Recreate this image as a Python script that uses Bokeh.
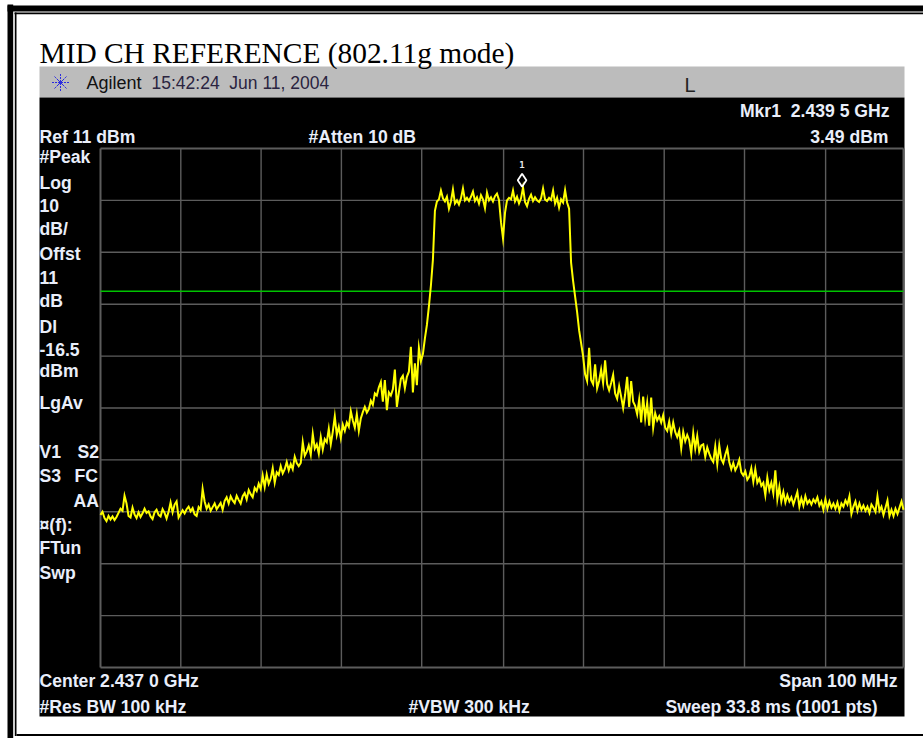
from bokeh.plotting import figure
from bokeh.models import Range1d
from bokeh.core.properties import value
from bokeh.embed import file_html
from bokeh.resources import INLINE
import numpy as np

TITLE = "MID CH REFERENCE (802.11g mode)"
CENTER_MHZ = 2437.0
SPAN_MHZ = 100.0
REF_DBM = 11.0
DB_PER_DIV = 10.0
DISPLAY_LINE_DBM = -16.5
MARKER_MHZ = 2439.5
MARKER_DBM = 3.49

grid_freq = [2387, 2397, 2407, 2417, 2427, 2437.2, 2447.15, 2457.2, 2467.2, 2477.3, 2487]
grid_level = [11, 1, -9, -19, -29, -39, -49, -59, -69, -79, -89]

trace_left_floor = [
    -59.6,-59.0,-60.2,-60.8,-59.8,-60.5,-59.9,-60.6,-60.0,-59.2,
    -58.4,-58.8,-55.9,-57.4,-59.8,-60.1,-58.2,-59.5,-60.2,-59.1,
    -60.0,-59.3,-58.4,-59.2,-58.9,-59.9,-60.4,-59.1,-58.6,-59.6,
    -59.9,-58.5,-59.2,-60.3,-59.0,-57.2,-59.1,-57.6,-57.0,-60.1,
    -59.4,-58.7,-59.3,-58.5,-58.0,-58.9,-58.3,-59.5,-59.8,-58.1,
    -58.6,-54.6,-57.0,-58.4,-57.6,-58.8,-58.1,-57.4,-58.5,-57.9,
    -57.3,-58.6,-56.9,-56.2,-57.4,-56.0,-56.8,-57.3,-55.9,-56.7,
    -57.4,-56.0,-55.4,-56.6,-54.8,-55.6,-56.2,-54.4,-55.0,-53.6,
    -54.6,-52.0,-54.2,-51.8,-53.6,
]
trace_left_skirt = [
    -52.6,-50.6,-53.4,-51.4,-51.9,-50.2,-51.6,-50.8,-49.4,-51.0,
    -49.8,-50.8,-48.4,-49.6,-50.2,-49.6,-45.6,-48.2,-47.4,-46.2,
    -48.0,-44.0,-46.8,-46.0,-47.8,-44.6,-47.0,-45.0,-45.6,-43.0,
    -46.0,-43.6,-40.6,-44.2,-42.6,-44.8,-42.2,-43.4,-41.8,-42.6,
    -39.6,-41.4,-42.8,-40.2,-43.4,-41.0,-39.8,-38.8,-39.9,-39.2,
    -37.6,-38.4,-36.2,-36.6,-35.0,-34.0,-37.8,-33.6,-39.4,-36.0,
    -36.6,-35.4,-31.6,-38.8,-36.0,-33.4,-32.8,-35.2,-33.0,-32.0,
    -27.2,-36.0,-30.4,-34.6,-27.4,
]
trace_rise = [-30.0,-28.6,-25.6,-23.0,-19.4,-15.4,-10.4,-1.0]
trace_plateau = [
    0.8,1.2,2.9,1.4,0.8,1.7,-0.6,0.8,3.1,0.4,
    1.0,0.2,1.4,3.3,1.0,1.5,0.9,1.7,2.7,0.9,
    1.6,0.4,2.0,1.2,-0.5,2.5,1.0,1.6,0.8,1.8,
    2.3,1.1,-3.2,-6.3,-1.4,1.0,1.5,1.2,2.9,0.8,
    1.7,0.4,1.4,3.49,0.7,-0.1,1.3,2.1,0.9,1.6,
    1.0,0.7,1.4,3.3,1.2,0.9,1.5,1.1,2.9,0.4,
    1.5,-0.4,1.2,0.6,3.0,0.6,
]
trace_fall = [-0.6,-11.0,-14.5,-17.5,-20.5,-24.0,-26.5,-29.0,-32.5,-33.8]
trace_right_skirt = [
    -27.4,-33.6,-34.4,-30.6,-35.2,-33.8,-31.6,-34.2,-29.8,-34.4,
    -35.6,-34.2,-32.6,-36.2,-37.2,-34.8,-36.8,-39.0,-36.4,-33.0,
    -38.8,-33.8,-37.8,-38.6,-40.2,-37.4,-41.8,-36.8,-41.0,-38.0,
    -42.4,-37.0,-42.8,-40.0,-41.4,-40.6,-41.8,-40.4,-42.8,-43.4,
    -41.6,-44.0,-41.8,-43.6,-44.6,-43.4,-46.8,-43.6,-45.4,-44.2,
    -45.2,-47.8,-43.8,-46.8,-44.4,-47.4,-46.2,-46.0,-48.4,-46.6,
    -47.8,-48.8,-49.4,-46.4,-49.8,-46.2,-48.8,-49.6,-48.0,-46.8,
    -49.4,-50.8,-49.6,-51.0,-50.2,
]
trace_right_floor = [
    -49.0,-51.4,-52.0,-51.2,-52.8,-52.2,-50.6,-53.2,-50.8,-53.4,
    -52.6,-54.0,-53.4,-55.8,-52.4,-54.8,-53.4,-55.4,-51.0,-56.6,
    -54.2,-57.0,-55.2,-57.2,-55.8,-57.0,-56.2,-57.6,-56.4,-55.2,
    -58.0,-56.4,-57.8,-56.0,-57.4,-56.8,-57.6,-56.6,-57.2,-56.2,
    -57.8,-57.0,-58.6,-56.6,-58.4,-57.0,-58.2,-57.4,-58.4,-57.2,
    -58.8,-57.4,-58.0,-56.8,-57.6,-56.0,-59.4,-58.0,-57.0,-58.8,
    -57.4,-58.6,-57.8,-58.8,-58.0,-59.2,-57.6,-58.2,-59.0,-56.0,
    -58.8,-58.0,-59.6,-58.2,-56.8,-59.8,-58.6,-59.8,-58.4,-59.4,
    -58.2,-57.0,-58.6,
]

level = (trace_left_floor + trace_left_skirt + trace_rise + trace_plateau
         + trace_fall + trace_right_skirt + trace_right_floor)
freq = np.linspace(CENTER_MHZ - SPAN_MHZ / 2, CENTER_MHZ + SPAN_MHZ / 2, len(level))

# page geometry in pixels
W, H = 923, 738
PX_L, PX_R = 100.0, 903.0
PX_T, PX_B = 148.0, 667.0
mhz_per_px = SPAN_MHZ / (PX_R - PX_L)
db_per_px = DB_PER_DIV * 10 / (PX_B - PX_T)
f0 = CENTER_MHZ - SPAN_MHZ / 2

p = figure(
    width=W, height=H, output_backend="svg", toolbar_location=None,
    x_range=Range1d(f0 - PX_L * mhz_per_px, f0 + (W - PX_L) * mhz_per_px),
    y_range=Range1d(REF_DBM - (H - PX_T) * db_per_px, REF_DBM + PX_T * db_per_px),
    min_border=0, min_border_left=0, min_border_right=0, min_border_top=0, min_border_bottom=0,
    background_fill_color="white", border_fill_color="white", outline_line_color=None,
    styles={"position": "absolute", "left": "0px", "top": "0px"},
)
p.xaxis.visible = False
p.yaxis.visible = False
p.xgrid.visible = False
p.ygrid.visible = False
p.extra_x_ranges["px"] = Range1d(0, W)
p.extra_y_ranges["px"] = Range1d(H, 0)
px = dict(x_range_name="px", y_range_name="px")

def box(l, t, r, b, color):
    p.quad(left=l, right=r, top=t, bottom=b, fill_color=color, line_color=None, **px)

# page frame
box(7, 4, 12.7, 738, "black")
box(7, 5, 923, 11, "black")
box(14, 12, 923, 13.7, "black")
box(14.3, 12, 16, 735.5, "black")
box(16, 733.5, 923, 735.5, "black")

# analyzer screen
box(39, 66, 904, 97, "#bcbcbc")
box(39, 97, 904, 716, "black")

TXT = "#e9eefa"
SANS = value("Liberation Sans")

def label(x, y, s, size=17.6, bold=True, color=TXT, align="left", font=SANS):
    p.text(x=[x], y=[y - 0.3 * size], text=[s], text_color=color, text_font=font,
           text_font_size=f"{size}px", text_font_style="bold" if bold else "normal",
           text_align=align, text_baseline="alphabetic", **px)

label(39, 61, TITLE, size=29.4, bold=False, color="black", font=value("Liberation Serif"))
label(86, 88, "Agilent", size=18, bold=False, color="#111111")
label(151, 88, "15:42:24\u00a0\u00a0Jun 11, 2004", size=17.5, bold=False, color="#2a2440")
label(684, 90, "L", size=20, bold=False, color="#222222")

label(889, 116, "Mkr1\u00a0\u00a02.439 5 GHz", align="right")
label(888, 142, "3.49 dBm", align="right")
label(39, 142, "Ref 11 dBm")
label(308, 142, "#Atten 10 dB")

for y, s in [(162, "#Peak"), (188, "Log"), (210, "10"), (234, "dB/"), (259, "Offst"),
             (282, "11"), (306, "dB"), (332, "Dl"), (354, "-16.5"), (376, "dBm"),
             (408, "LgAv"), (457, "V1"), (481, "S3"), (530, "\u00a4(f):"), (553, "FTun"), (578, "Swp")]:
    label(39, y, s)
label(77, 457, "S2")
label(74, 481, "FC")
label(73, 506, "AA")

label(39, 686, "Center 2.437 0 GHz")
label(39, 712, "#Res BW 100 kHz")
label(897, 686, "Span 100 MHz", align="right")
label(408, 712, "#VBW 300 kHz")
label(665, 712, "Sweep 33.8 ms (1001 pts)")

# Agilent logo
p.scatter(x=[60], y=[82], marker="asterisk", size=17, line_color="#2b2be0", line_width=1,
          line_dash="2 1", **px)
p.scatter(x=[60], y=[82], marker="x", size=10, line_color="#2b2be0", line_width=1, **px)

# graticule
bottom, top = grid_level[-1], grid_level[0]
GRID = "#5c5c5c"
for i, f in enumerate(grid_freq):
    edge = i in (0, len(grid_freq) - 1)
    p.segment(x0=[f], x1=[f], y0=[bottom], y1=[top], line_color=GRID, line_width=2 if edge else 1.4)
for i, l in enumerate(grid_level):
    edge = i in (0, len(grid_level) - 1)
    p.segment(x0=[grid_freq[0]], x1=[grid_freq[-1]], y0=[l], y1=[l], line_color=GRID,
              line_width=2 if edge else 1.4)

# display line
p.line(x=[grid_freq[0], grid_freq[-1]], y=[DISPLAY_LINE_DBM, DISPLAY_LINE_DBM],
       line_color="#00c400", line_width=1.5)

# trace
p.line(x=freq, y=level, line_color="#ffff00", line_width=2, line_join="miter")

# marker
p.scatter(x=[MARKER_MHZ], y=[MARKER_DBM + 1.4], marker="diamond", size=13, fill_color=None,
          line_color="white", line_width=1.8)
p.text(x=[MARKER_MHZ], y=[MARKER_DBM + 4.4], text=["1"], text_color="#e8e8e8",
       text_font=value("DejaVu Sans Mono"), text_font_size="9px", text_font_style="bold",
       text_align="center", text_baseline="alphabetic")

open("out.html", "w").write(file_html(p, INLINE))
